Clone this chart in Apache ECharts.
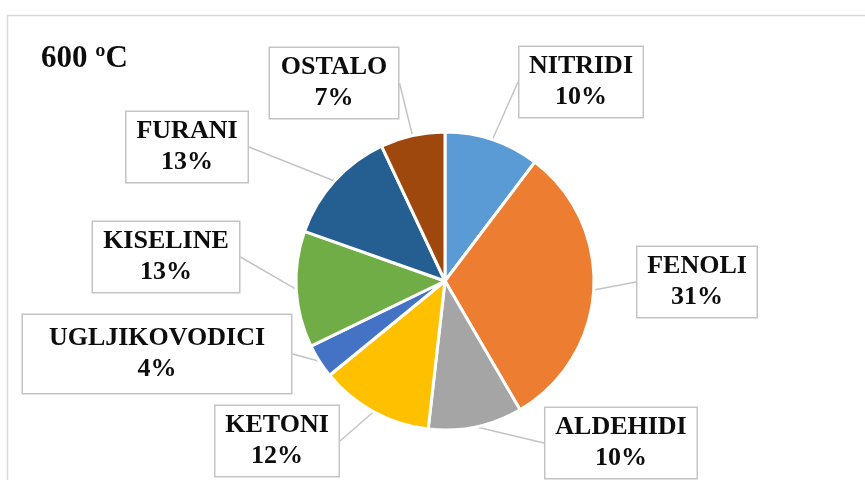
<!DOCTYPE html>
<html>
<head>
<meta charset="utf-8">
<script src="https://cdn.jsdelivr.net/npm/echarts@6/dist/echarts.min.js"></script>
<style>
  html, body { margin: 0; padding: 0; background: #fff; }
  #chart { width: 865px; height: 480px; }
</style>
</head>
<body>
<div id="chart"></div>
<script>
  // udjeli po skupinama spojeva (ocitano s grafa)
  const names = ['NITRIDI', 'FENOLI', 'ALDEHIDI', 'KETONI', 'UGLJIKOVODICI', 'KISELINE', 'FURANI', 'OSTALO']
  const shares = [10.3, 31.3, 10.2, 12.3, 3.7, 12.6, 12.6, 7.0]
  const colors = ['#5b9bd5', '#ed7d31', '#a5a5a5', '#ffc000', '#4472c4', '#70ad47', '#255e91', '#9e480e']
  const title = '600 ºC'

  // polozaj okvira oznaka: centar x, centar y, sirina, visina
  const boxes = [
    [581, 82, 123, 70],
    [697, 282, 119, 70],
    [621, 443, 151, 70],
    [277, 441, 123, 70],
    [157, 354, 268, 78],
    [166, 257, 146, 70],
    [187, 147, 121, 70],
    [334, 83, 128, 70]
  ]

  const chart = echarts.init(document.getElementById('chart'))
  chart.setOption({
    animation: false,
    color: colors,
    graphic: [{
      type: 'rect',
      shape: { x: 7.5, y: 15.5, width: 900, height: 520 },
      style: { fill: 'none', stroke: '#d9d9d9', lineWidth: 1.5 },
      silent: true
    }],
    title: {
      text: title,
      left: 36,
      top: 38,
      textStyle: {
        fontFamily: 'Liberation Serif',
        fontWeight: 'bold',
        fontSize: 31,
        color: '#0d0d0d'
      }
    },
    series: [{
      type: 'pie',
      center: [445, 281],
      radius: 149,
      startAngle: 90,
      clockwise: true,
      percentPrecision: 0,
      itemStyle: {
        borderColor: '#fff',
        borderWidth: 3
      },
      label: {
        show: true,
        position: 'outside',
        formatter: '{b}\n{d}%',
        fontFamily: 'Liberation Serif',
        fontWeight: 'bold',
        fontSize: 26,
        lineHeight: 31,
        color: '#0d0d0d',
        align: 'center',
        backgroundColor: '#fff',
        borderColor: '#c4c4c4',
        borderWidth: 1.5,
        padding: [4, 0]
      },
      labelLine: {
        show: true,
        length: 3,
        length2: 0,
        lineStyle: { color: '#c4c4c4', width: 1.5 }
      },
      labelLayout: function (params) {
        const b = boxes[params.dataIndex]
        return {
          x: b[0],
          y: b[1],
          align: 'center',
          verticalAlign: 'middle',
          width: b[2],
          height: b[3] - 8,
          hideOverlap: false
        }
      },
      emphasis: { disabled: true },
      data: names.map((n, i) => ({ name: n, value: shares[i] }))
    }]
  })
</script>
</body>
</html>
